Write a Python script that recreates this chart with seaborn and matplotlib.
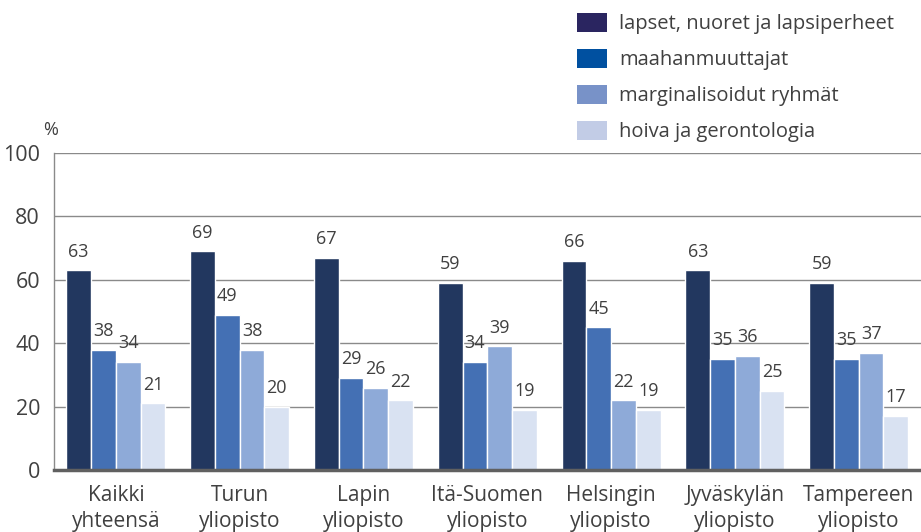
import matplotlib
matplotlib.use("Agg")
import matplotlib.pyplot as plt
import seaborn as sns
import pandas as pd
from matplotlib.patches import Patch

categories = ["Kaikki\nyhteensä", "Turun\nyliopisto", "Lapin\nyliopisto", "Itä-Suomen\nyliopisto",
              "Helsingin\nyliopisto", "Jyväskylän\nyliopisto", "Tampereen\nyliopisto"]
series = ["lapset, nuoret ja lapsiperheet", "maahanmuuttajat",
          "marginalisoidut ryhmät", "hoiva ja gerontologia"]
lapset = [63, 69, 67, 59, 66, 63, 59]
maahan = [38, 49, 29, 34, 45, 35, 35]
margin = [34, 38, 26, 39, 22, 36, 37]
hoiva = [21, 20, 22, 19, 19, 25, 17]
yticks = [0, 20, 40, 60, 80, 100]

bar_colors = ["#22375f", "#4470b4", "#8eaad8", "#d9e2f2"]
legend_colors = ["#2a2560", "#0050a0", "#7892c8", "#c2cce6"]

rows = []
for s, vals in zip(series, [lapset, maahan, margin, hoiva]):
    for c, v in zip(categories, vals):
        rows.append({"cat": c, "series": s, "value": v})
df = pd.DataFrame(rows)

sns.set_style("white")
plt.rcParams["font.family"] = ["Open Sans", "DejaVu Sans"]
text_color = "#404040"

fig = plt.figure(figsize=(9.21, 5.32), dpi=100)
ax = fig.add_axes([0.0586, 0.1165, 0.941, 0.596])
sns.barplot(data=df, x="cat", y="value", hue="series", palette=bar_colors,
            saturation=1, width=0.8, edgecolor="white", linewidth=1.0, ax=ax,
            legend=False, errorbar=None, zorder=3)

for cont in ax.containers:
    ax.bar_label(cont, padding=7, fontsize=13, color=text_color)

ax.set_xlim(-0.5, 6.5)
ax.set_ylim(0, 100)
ax.set_yticks(yticks)
ax.set_yticklabels([str(t) for t in yticks])
ax.tick_params(axis="y", labelsize=15.5, colors=text_color, length=0, pad=10)
ax.tick_params(axis="x", labelsize=15, colors=text_color, length=0, pad=11)
for lbl in ax.get_xticklabels():
    lbl.set_linespacing(1.3)
ax.set_xlabel("")
ax.set_ylabel("")
ax.yaxis.grid(True, color="#8a8a8a", linewidth=1.0, zorder=0)
ax.set_axisbelow(True)
for side in ["top", "right"]:
    ax.spines[side].set_visible(False)
ax.spines["left"].set_color("#8a8a8a")
ax.spines["left"].set_linewidth(1.0)
ax.spines["bottom"].set_color("#606060")
ax.spines["bottom"].set_linewidth(2.5)
ax.spines["bottom"].set_zorder(5)

ax.text(-0.012, 1.045, "%", transform=ax.transAxes, fontsize=13, color=text_color,
        ha="left", va="bottom")

handles = [Patch(facecolor=c, edgecolor="none") for c in legend_colors]
fig.legend(handles, series, loc="upper left", bbox_to_anchor=(0.626, 0.976),
           frameon=False, fontsize=14.5, labelcolor=text_color,
           handlelength=1.5, handleheight=1.1, handletextpad=0.6, labelspacing=0.72,
           borderaxespad=0, borderpad=0)

fig.savefig("out.png", dpi=100)
